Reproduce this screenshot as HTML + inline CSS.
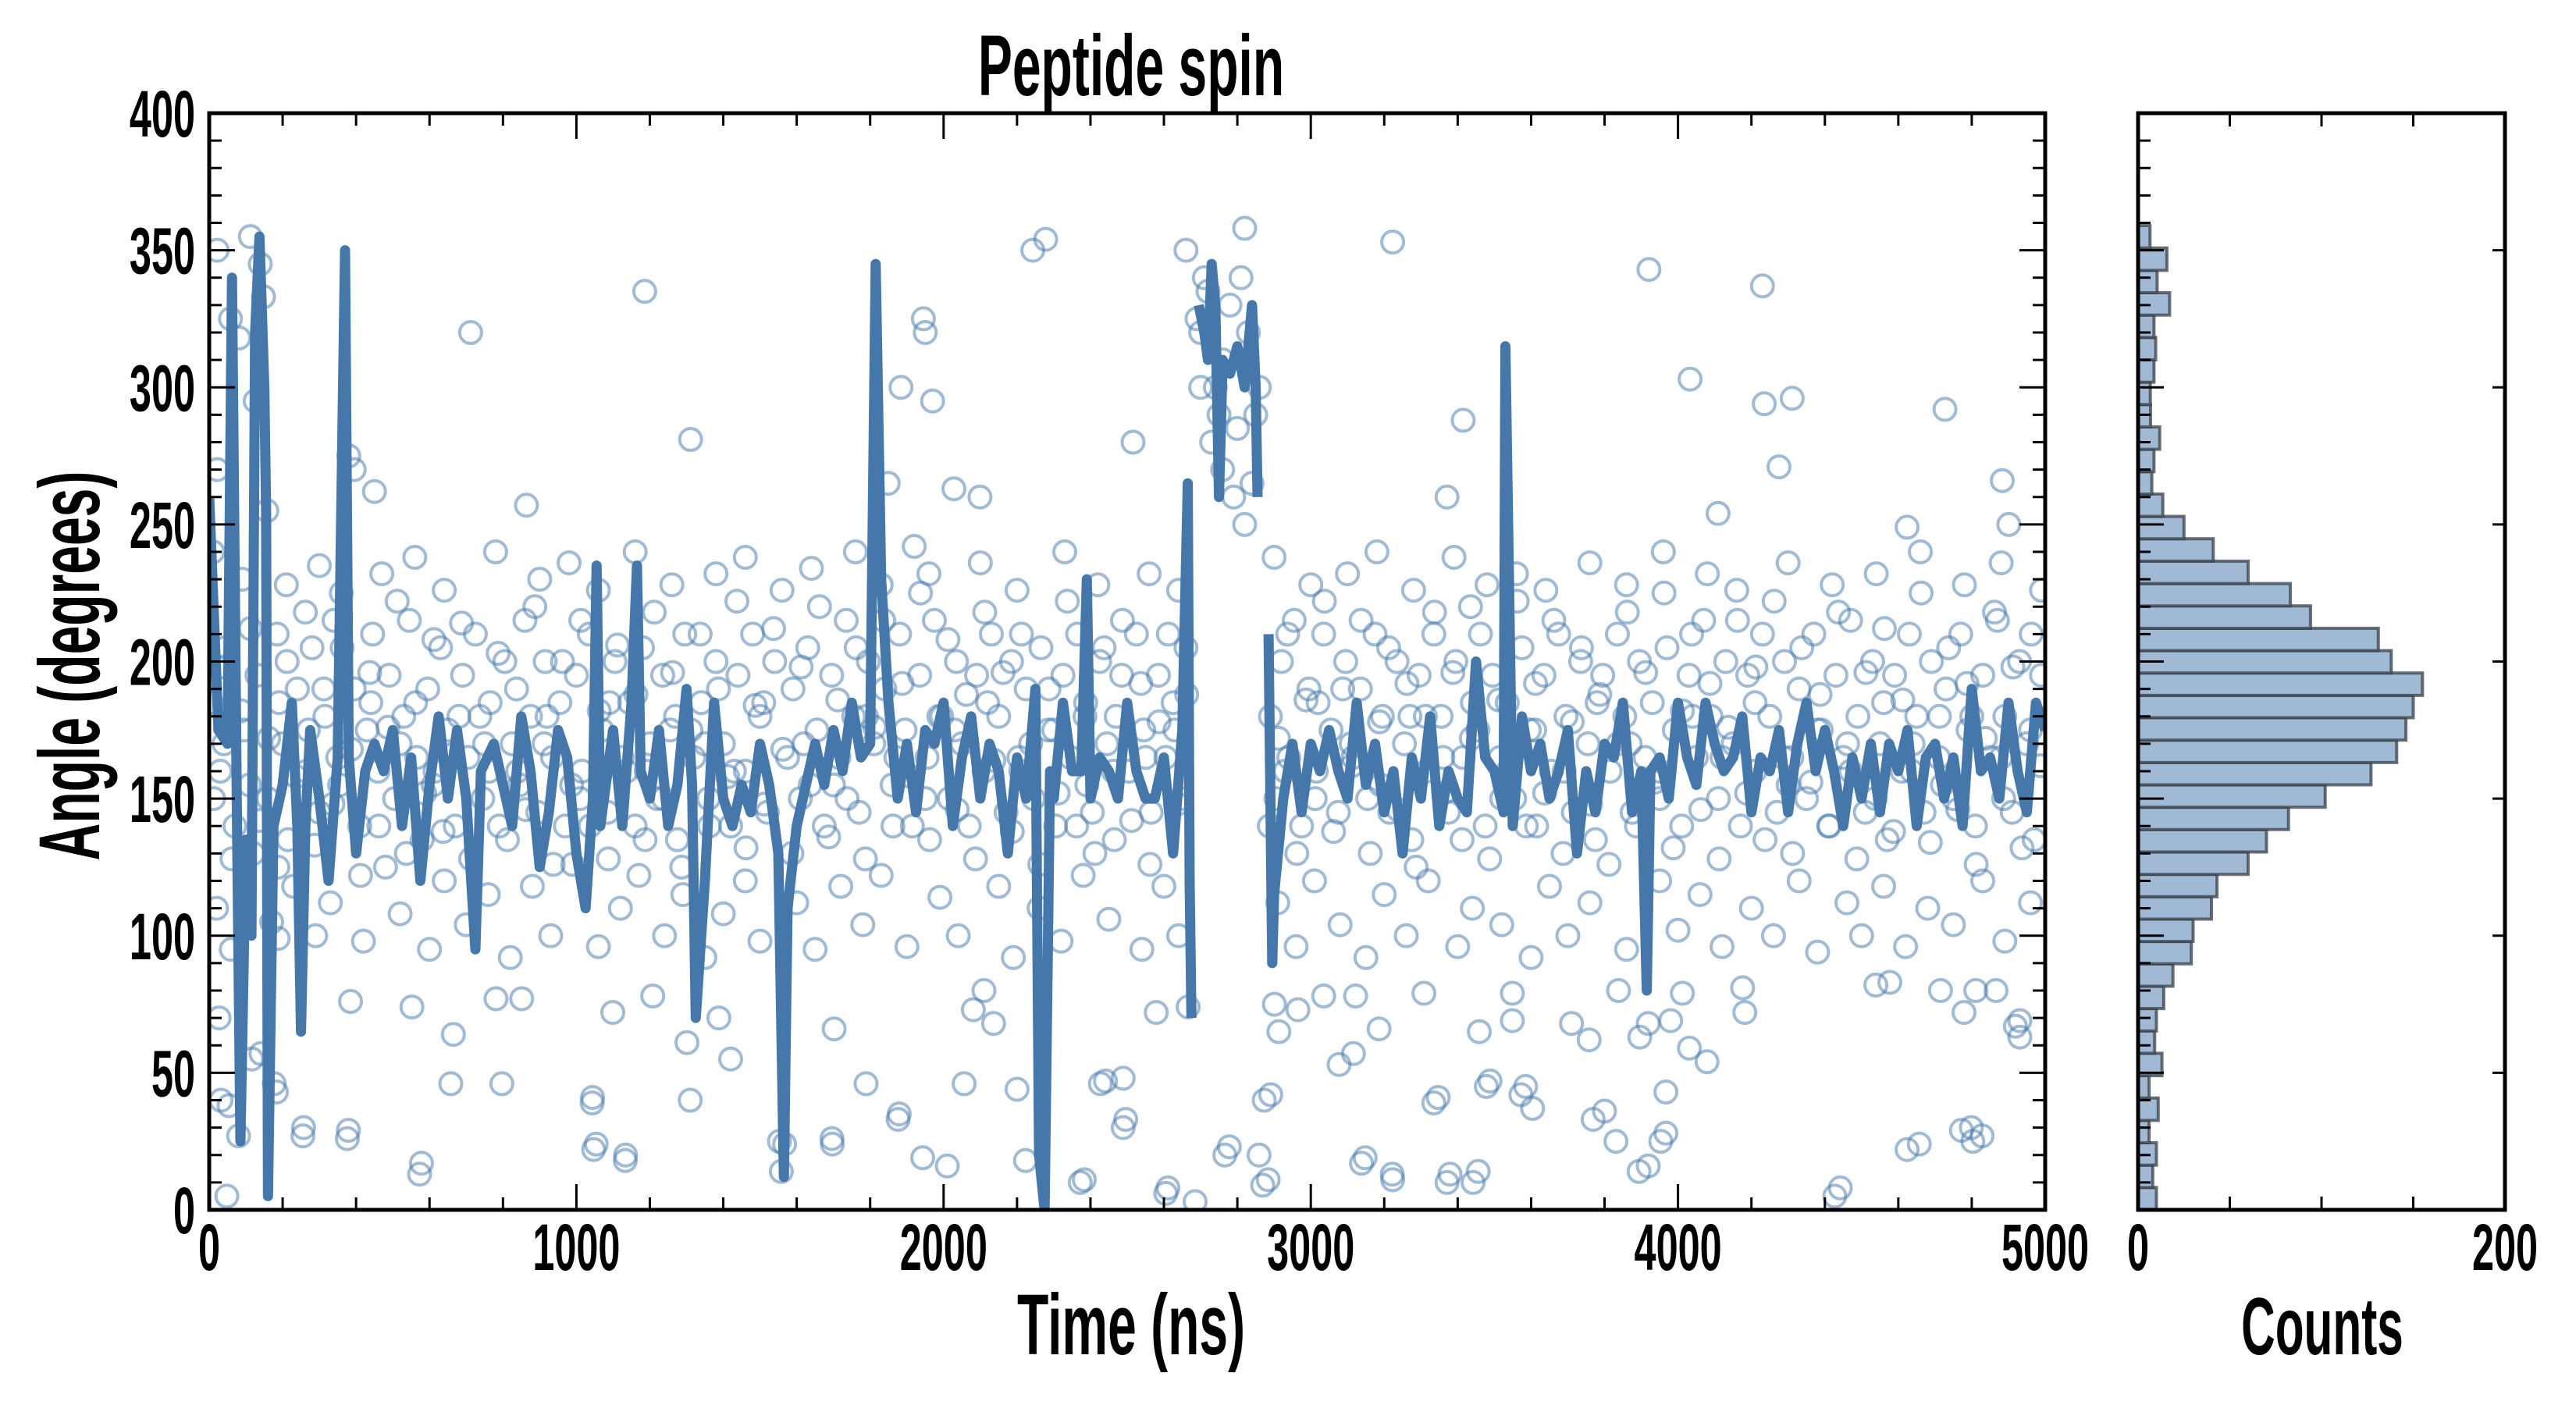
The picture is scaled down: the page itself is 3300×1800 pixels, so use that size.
<!DOCTYPE html>
<html><head><meta charset="utf-8"><title>Peptide spin</title>
<style>
html,body{margin:0;padding:0;background:#fff;}
svg{display:block;}
text{font-family:"Liberation Sans",sans-serif;font-weight:bold;fill:#000;}
</style></head>
<body>
<svg id="chart" width="3300" height="1800" viewBox="0 0 3300 1800" xmlns="http://www.w3.org/2000/svg">
<rect width="3300" height="1800" fill="#fff"/>
<defs><clipPath id="mainclip"><rect x="268" y="145" width="2352" height="1405"/></clipPath></defs>
<g id="scatter" clip-path="url(#mainclip)"></g>
<g id="line" clip-path="url(#mainclip)"></g>
<g id="hist"></g>
<g id="axes"></g>
<g id="labels">
<text transform="translate(1449,122) scale(0.6,1)" text-anchor="middle" font-size="110">Peptide spin</text>
<text transform="translate(1449,1735) scale(0.6,1)" text-anchor="middle" font-size="110">Time (ns)</text>
<text transform="translate(127,853) rotate(-90) scale(0.6,1)" text-anchor="middle" font-size="110">Angle (degrees)</text>
<text transform="translate(2975,1735) scale(0.58,1)" text-anchor="middle" font-size="104">Counts</text>
</g>
</svg>
<script>
// ---------- data ----------
const lineTimes = [0,25,50,62,75,85,100,115,125,137,150,155,160,175,200,225,240,250,262,275,300,325,350,370,380,400,425,450,475,500,525,550,575,600,625,650,675,700,725,740,775,800,825,850,875,900,925,950,975,1000,1025,1045,1055,1065,1100,1125,1150,1165,1175,1200,1225,1250,1275,1300,1315,1325,1350,1375,1400,1425,1450,1475,1500,1525,1550,1565,1575,1600,1625,1650,1675,1700,1725,1750,1775,1800,1815,1830,1850,1875,1900,1925,1950,1975,2000,2025,2050,2075,2100,2125,2150,2175,2200,2225,2250,2260,2275,2290,2300,2325,2350,2375,2390,2400,2425,2450,2475,2500,2525,2550,2575,2600,2625,2650,2665,2670,2675,2685,2695,2710,2720,2730,2740,2750,2760,2780,2800,2820,2840,2850,2855,2870,2885,2895,2900,2925,2950,2975,3000,3025,3050,3075,3100,3125,3150,3175,3200,3225,3250,3275,3300,3325,3350,3375,3400,3425,3450,3475,3500,3525,3530,3550,3575,3600,3625,3650,3675,3700,3725,3750,3775,3800,3825,3850,3875,3900,3915,3925,3950,3975,4000,4025,4050,4075,4100,4125,4150,4175,4200,4225,4250,4275,4300,4325,4350,4375,4400,4425,4450,4475,4500,4525,4550,4575,4600,4625,4650,4675,4700,4725,4750,4775,4800,4825,4850,4875,4900,4925,4950,4975,5000];
const lineValues = [260,175,170,340,150,25,135,100,320,355,300,255,5,140,155,185,140,65,140,175,150,120,165,350,165,130,160,170,160,175,140,165,120,155,180,150,175,150,95,160,170,155,140,180,160,125,145,175,165,130,110,150,235,140,175,140,185,235,160,150,175,140,155,190,155,70,120,185,150,140,155,145,170,155,130,12,110,140,155,170,155,175,160,185,165,170,345,230,185,150,170,145,175,170,185,140,165,180,150,170,160,130,165,150,190,20,0,160,150,185,160,160,230,150,165,160,150,185,160,150,150,165,130,175,265,120,70,null,330,320,310,345,330,260,310,305,315,300,330,300,260,null,210,90,115,150,170,145,170,160,175,160,150,185,155,170,145,160,130,165,150,180,140,160,150,145,200,165,160,145,315,140,180,160,170,150,160,175,130,160,145,170,165,185,145,160,80,160,165,150,185,165,155,185,170,160,165,180,145,165,160,175,145,170,185,160,175,160,140,165,150,170,145,170,160,175,140,165,170,150,165,140,190,160,165,150,185,160,145,185,175];

const scatterPoints = [
[22,350],[58,325],[81,318],[112,355],[139,345],[148,333],[125,295],[157,255],[22,270],[712,320],[1186,335],[1311,281],[864,257],[1884,300],[1970,295],[1849,265],[1920,242],[2028,263],[2099,260],[2243,350],[2278,354],[2516,280],[2820,358],[3223,353],[3415,288],[3371,260],[3921,343],[4033,303],[4235,294],[4311,296],[4230,337],[4727,292],[4883,266],[4624,249],[4109,254],[4275,271],[4901,250],[380,275],[395,270],[450,262],[1945,325],[1950,320],[2660,350],[2700,320],[2720,335],[2740,300],[2760,310],[2780,330],[2810,340],[2830,320],[2850,290],[2700,300],[2730,280],[2760,270],[2790,260],[2820,250],[2840,265],[2860,300],[2710,340],[2690,325],[2750,290],[2800,285],
[573,13],[658,46],[797,46],[1043,39],[1047,22],[1133,18],[1553,25],[1697,24],[1876,33],[2010,16],[2372,10],[2427,46],[2489,48],[2489,30],[2605,6],[2766,20],[2869,9],[2873,40],[3138,17],[3223,11],[3335,39],[3371,10],[3442,10],[3478,45],[3572,42],[3769,33],[3831,25],[3894,14],[3953,25],[3980,69],[4427,5],[4624,22],[4772,29],[4803,25],[4919,67],[255,27],[376,26],[54,38],[116,55],[183,43],[27,70],[188,99],
[48,5],[32,40],[80,27],[177,46],[257,30],[379,29],[578,17],[1044,41],[1054,24],[1134,20],[1310,40],[1420,55],[1301,61],[1567,24],[1558,14],[1696,26],[1702,66],[1789,46],[1879,35],[1943,19],[2056,46],[2200,44],[2223,18],[2383,11],[2441,47],[2496,33],[2611,8],[2685,3],[2778,23],[2859,20],[2884,11],[2891,42],[2913,65],[3077,53],[3116,57],[3148,19],[3186,66],[3222,13],[3347,41],[3379,13],[3456,14],[3459,65],[3488,47],[3585,45],[3604,37],[3549,69],[3710,68],[3758,62],[3800,36],[3896,63],[3919,68],[3919,16],[3967,43],[3967,28],[4031,59],[4079,54],[4182,72],[4442,8],[4657,24],[4799,30],[4828,27],[4779,72],[4931,63],[4931,69],[141,57],
[385,76],[552,74],[665,64],[781,77],[851,77],[1099,72],[1208,78],[1388,70],[2081,73],[2136,68],[2110,80],[2579,72],[2666,74],[2965,73],[2901,75],[3035,78],[3122,78],[3308,79],[3549,79],[3838,80],[4012,79],[4176,81],[4539,82],[4715,80],[4811,80],[4866,80],[4577,83],
[20,110],[60,95],[120,130],[170,105],[230,118],[290,100],[330,112],[420,98],[480,125],[520,108],[600,95],[640,120],[700,104],[760,115],[820,92],[880,118],[930,100],[990,126],[1060,96],[1120,110],[1170,122],[1240,100],[1290,115],[1350,92],[1400,108],[1460,120],[1500,98],[1600,112],[1650,95],[1720,118],[1780,104],[1830,122],[1900,96],[1990,114],[2040,100],[2150,118],[2190,92],[2260,110],[2320,98],[2380,122],[2450,106],[2540,95],[2600,118],[2640,100],[2910,112],[2960,96],[3010,120],[3080,104],[3150,92],[3200,115],[3260,100],[3320,120],[3400,96],[3440,110],[3520,104],[3600,92],[3650,118],[3700,100],[3760,112],[3860,95],[3950,120],[4000,102],[4060,115],[4120,96],[4200,110],[4260,100],[4330,120],[4380,94],[4460,112],[4500,100],[4560,118],[4620,96],[4680,110],[4750,104],[4830,120],[4890,98],[4960,112],
[10,240],[90,230],[210,228],[300,235],[360,225],[470,232],[560,238],[640,226],[780,240],[900,230],[980,236],[1060,226],[1160,240],[1260,228],[1380,232],[1460,238],[1560,226],[1640,234],[1760,240],[1830,228],[1960,232],[2100,236],[2200,226],[2330,240],[2420,228],[2560,232],[2640,226],[2900,238],[3000,228],[3100,232],[3180,240],[3280,226],[3390,238],[3480,228],[3560,232],[3640,226],[3760,236],[3860,228],[3960,240],[4080,232],[4160,226],[4300,236],[4420,228],[4540,232],[4660,240],[4780,228],[4880,236],[4990,226],
[5,185],[30,160],[45,205],[70,140],[95,175],[130,195],[160,150],[185,210],[200,170],[215,135],[240,190],[265,160],[280,205],[300,145],[315,180],[340,215],[355,155],[395,190],[410,140],[430,175],[445,210],[460,160],[490,195],[505,150],[530,180],[545,215],[565,165],[580,135],[595,190],[615,160],[630,205],[650,175],[670,140],[690,195],[705,165],[725,210],[745,150],[765,185],[790,140],[805,200],[825,170],[845,155],[860,215],[875,180],[895,145],[915,200],[935,165],[955,185],[970,140],[1000,195],[1015,160],[1035,210],[1070,175],[1085,145],[1105,200],[1125,165],[1145,185],[1160,140],[1180,205],[1200,170],[1220,150],[1235,195],[1255,175],[1275,135],[1295,210],[1320,165],[1340,185],[1360,150],[1380,200],[1400,170],[1420,140],[1440,195],[1460,160],[1480,210],[1500,180],[1520,145],[1540,200],[1575,165],[1590,190],[1610,150],[1630,205],[1655,175],[1675,140],[1695,195],[1715,165],[1735,215],[1755,180],[1770,145],[1795,200],[1810,170],[1840,190],[1860,155],[1880,210],[1895,175],[1915,140],[1935,195],[1955,165],[1975,215],[1995,180],[2015,150],[2035,200],[2050,170],[2070,140],[2090,195],[2110,160],[2130,210],[2150,180],[2170,145],[2185,200],[2205,165],[2225,190],[2245,150],[2265,205],[2285,175],[2305,140],[2325,195],[2345,165],[2365,210],[2385,180],[2405,145],[2425,200],[2445,170],[2465,135],[2485,195],[2505,160],[2525,210],[2545,175],[2565,145],[2585,195],[2605,165],[2625,185],[2645,150],[2660,205],[2890,180],[2905,150],[2920,200],[2940,165],[2955,215],[2975,140],[2995,190],[3015,160],[3035,210],[3055,175],[3075,145],[3095,200],[3115,165],[3135,190],[3155,150],[3175,210],[3195,180],[3215,145],[3235,200],[3255,170],[3275,135],[3295,195],[3315,160],[3335,210],[3355,180],[3375,145],[3395,200],[3415,165],[3435,220],[3455,175],[3475,140],[3495,195],[3515,165],[3535,185],[3555,150],[3575,205],[3595,175],[3615,140],[3635,195],[3655,160],[3675,210],[3695,180],[3715,145],[3735,200],[3755,170],[3775,135],[3795,195],[3815,160],[3835,210],[3855,180],[3875,145],[3895,200],[3910,165],[3930,185],[3950,150],[3970,205],[3990,175],[4010,140],[4030,195],[4050,165],[4070,215],[4090,180],[4110,150],[4130,200],[4150,170],[4170,140],[4190,195],[4210,160],[4230,210],[4250,180],[4270,145],[4290,200],[4310,165],[4330,190],[4350,150],[4370,210],[4390,175],[4410,140],[4430,195],[4450,165],[4470,215],[4490,180],[4510,145],[4530,200],[4550,170],[4570,135],[4590,195],[4610,160],[4630,210],[4650,180],[4670,145],[4690,200],[4710,165],[4730,190],[4750,150],[4770,210],[4790,175],[4810,140],[4830,195],[4850,165],[4870,215],[4890,180],[4910,145],[4930,200],[4950,170],[4970,135],[4990,195],
[40,170],[110,155],[190,185],[270,175],[350,165],[440,185],[520,170],[610,155],[680,180],[750,170],[840,160],[920,180],[1010,150],[1090,185],[1190,160],[1270,180],[1350,170],[1430,160],[1510,185],[1620,170],[1700,155],[1790,180],[1870,165],[1950,150],[2030,175],[2120,185],[2210,160],[2300,175],[2390,155],[2470,180],[2550,165],[2630,175],[2930,160],[3020,185],[3110,170],[3190,155],[3270,180],[3360,165],[3440,185],[3520,150],[3610,175],[3690,160],[3780,185],[3870,170],[3950,160],[4040,180],[4120,165],[4210,185],[4300,155],[4380,175],[4470,160],[4560,185],[4640,170],[4720,155],[4800,180],[4880,165],[4960,175]
];
const bandPoints = [
[12,150],[37,198],[62,128],[87,182],[112,212],[137,142],[162,172],[187,125],[212,200],[237,158],[262,218],[287,133],[312,190],[337,148],[362,205],[387,168],[412,122],[437,196],[462,140],[487,176],[512,222],[537,130],[562,185],[587,152],[612,208],[637,138],[662,166],[687,214],[712,128],[737,180],[762,160],[787,203],[812,135],[837,190],[862,146],[887,220],[912,170],[937,126],[962,200],[987,155],[1012,215],[1037,140],[1062,182],[1087,128],[1112,206],[1137,160],[1162,188],[1187,135],[1212,218],[1237,150],[1262,196],[1287,125],[1312,175],[1337,210],[1362,140],[1387,190],[1412,158],[1437,222],[1462,132],[1487,184],[1512,148],[1537,212],[1562,168],[1587,130],[1612,198],[1637,155],[1662,220],[1687,136],[1712,186],[1737,150],[1762,205],[1787,128],[1812,176],[1837,215],[1862,140],[1887,192],[1912,158],[1937,225],[1962,135],[1987,180],[2012,208],[2037,146],[2062,188],[2087,128],[2112,218],[2137,164],[2162,196],[2187,138],[2212,210],[2237,170],[2262,126],[2287,190],[2312,152],[2337,222],[2362,140],[2387,185],[2412,130],[2437,205],[2462,160],[2487,215],[2512,142],[2537,192],[2562,126],[2587,178],[2612,210],[2637,148],[2662,188],
[2887,140],[2912,172],[2937,210],[2962,130],[2987,186],[3012,150],[3037,222],[3062,138],[3087,190],[3112,162],[3137,215],[3162,130],[3187,178],[3212,205],[3237,146],[3262,192],[3287,125],[3312,180],[3337,218],[3362,152],[3387,196],[3412,135],[3437,172],[3462,210],[3487,128],[3512,186],[3537,160],[3562,222],[3587,140],[3612,192],[3637,152],[3662,215],[3687,130],[3712,178],[3737,205],[3762,148],[3787,188],[3812,126],[3837,170],[3862,218],[3887,140],[3912,196],[3937,156],[3962,225],[3987,132],[4012,182],[4037,210],[4062,146],[4087,192],[4112,128],[4137,176],[4162,215],[4187,152],[4212,198],[4237,135],[4262,222],[4287,165],[4312,130],[4337,205],[4362,156],[4387,188],[4412,140],[4437,218],[4462,170],[4487,128],[4512,196],[4537,150],[4562,212],[4587,138],[4612,186],[4637,160],[4662,225],[4687,134],[4712,180],[4737,205],[4762,146],[4787,192],[4812,126],[4837,172],[4862,218],[4887,150],[4912,198],[4937,132],[4962,210],[4987,162]
];

const histBinStart = 0;
const histBinWidth = 359/44;
const histCounts = [10,8,10,6,11,6,13,9,10,14,19,29,30,40,43,60,70,82,102,127,141,146,150,155,138,131,94,83,60,41,25,13.5,7.5,8.7,11.8,6.8,6.7,8.7,9.6,8.7,17.2,10.4,15.7,6.5];

const xTicks = [0,1000,2000,3000,4000,5000];
const yTicks = [0,50,100,150,200,250,300,350,400];
const histXTickLabels = [0,200];

// ---------- scales ----------
const PX0=268, PX1=2620, PY0=1550, PY1=145;
const HX0=2739, HX1=3209;
function X(t){return PX0 + t/5000*(PX1-PX0);}
function Y(v){return PY0 - v/400*(PY0-PY1);}
function HX(c){return HX0 + c/200*(HX1-HX0);}
const NS="http://www.w3.org/2000/svg";
function mk(tag,parent){const e=document.createElementNS(NS,tag);parent.appendChild(e);return e;}

// scatter
const sg=document.getElementById('scatter');
scatterPoints.concat(bandPoints).forEach(p=>{
  const c=mk('circle',sg);
  
  
  c.setAttribute('cx',X(p[0]).toFixed(1));
  c.setAttribute('cy',Y(p[1]).toFixed(1));
  c.setAttribute('r','14');
  c.setAttribute('fill','none');
  c.setAttribute('stroke','#4477aa');
  c.setAttribute('stroke-opacity','0.5');
  c.setAttribute('stroke-width','4');
});

// line (segments split on null)
const lg=document.getElementById('line');
let d='', pen=false;
for(let i=0;i<lineTimes.length;i++){
  const v=lineValues[i];
  if(v===null){pen=false;continue;}
  d+=(pen?'L':'M')+X(lineTimes[i]).toFixed(1)+' '+Y(v).toFixed(1)+' ';
  pen=true;
}
const lp=mk('path',lg);


lp.setAttribute('d',d);
lp.setAttribute('fill','none');
lp.setAttribute('stroke','#4577aa');
lp.setAttribute('stroke-width','13');
lp.setAttribute('stroke-linejoin','round');

// histogram
const hg=document.getElementById('hist');
histCounts.forEach((c,i)=>{
  const lo=histBinStart+i*histBinWidth, hi=lo+histBinWidth;
  const r=mk('rect',hg);
  
  
  r.setAttribute('x',HX0);
  r.setAttribute('y',Y(hi).toFixed(1));
  r.setAttribute('width',(HX(c)-HX0).toFixed(1));
  r.setAttribute('height',(Y(lo)-Y(hi)).toFixed(1));
  r.setAttribute('fill','#a0b9d5');
  r.setAttribute('stroke','#3a4048');
  r.setAttribute('stroke-opacity','0.75');
  r.setAttribute('stroke-width','4');
});

// axes
const ag=document.getElementById('axes');
function line(x1,y1,x2,y2,w){const l=mk('line',ag);l.setAttribute('x1',x1);l.setAttribute('y1',y1);l.setAttribute('x2',x2);l.setAttribute('y2',y2);l.setAttribute('stroke','#000');l.setAttribute('stroke-width',w||3);return l;}
function txt(s,x,y,anchor,size,parent){const t=mk('text',parent||ag);t.setAttribute('transform','translate('+x+','+y+') scale(0.6,1)');t.setAttribute('text-anchor',anchor);t.setAttribute('font-size',size);t.textContent=s;return t;}
const mf=mk('rect',ag);


mf.setAttribute('x',PX0);mf.setAttribute('y',PY1);mf.setAttribute('width',PX1-PX0);mf.setAttribute('height',PY0-PY1);
mf.setAttribute('fill','none');mf.setAttribute('stroke','#000');mf.setAttribute('stroke-width','5');
const hf=mk('rect',ag);


hf.setAttribute('x',HX0);hf.setAttribute('y',PY1);hf.setAttribute('width',HX1-HX0);hf.setAttribute('height',PY0-PY1);
hf.setAttribute('fill','none');hf.setAttribute('stroke','#000');hf.setAttribute('stroke-width','5');
for(let t=0;t<=5000;t+=200){
  const major=t%1000===0, L=major?33:16, x=X(t);
  line(x,PY0,x,PY0-L);line(x,PY1,x,PY1+L);
}
for(let v=0;v<=400;v+=10){
  const major=v%50===0, L=major?33:16, y=Y(v);
  line(PX0,y,PX0+L,y);line(PX1,y,PX1-L,y);
  line(HX0,y,HX0+L,y);
  if(major) line(HX1,y,HX1-16,y);
}
for(let c=0;c<=200;c+=50){const x=HX(c);line(x,PY0,x,PY0-17);line(x,PY1,x,PY1+17);}
xTicks.forEach(t=>{const e=txt(String(t),X(t),1627,'middle',84);
  
  });
yTicks.forEach(v=>{const e=txt(String(v),250,Y(v)+30,'end',84);
  
  });
histXTickLabels.forEach(c=>{const e=txt(String(c),HX(c),1627,'middle',84);
  
  });
</script>
</body></html>
